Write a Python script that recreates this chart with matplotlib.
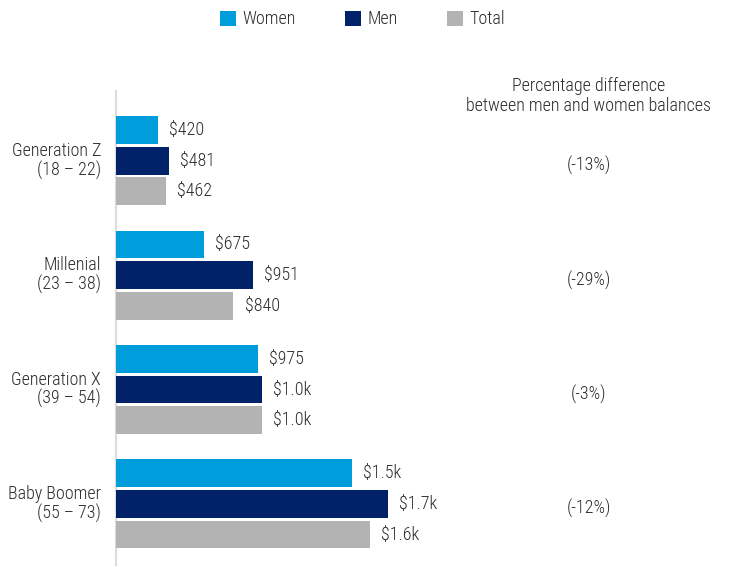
import matplotlib
matplotlib.use("Agg")
import matplotlib.pyplot as plt
import matplotlib.transforms as mtransforms
from matplotlib.patches import Patch

# ---- data ----
categories = ["Generation Z\n(18 – 22)", "Millenial\n(23 – 38)",
              "Generation X\n(39 – 54)", "Baby Boomer\n(55 – 73)"]
women = [420, 675, 975, 1500]
men = [481, 951, 1000, 1700]
total = [462, 840, 1000, 1600]
women_labels = ["$420", "$675", "$975", "$1.5k"]
men_labels = ["$481", "$951", "$1.0k", "$1.7k"]
total_labels = ["$462", "$840", "$1.0k", "$1.6k"]
pct_diff = ["(-13%)", "(-29%)", "(-3%)", "(-12%)"]
series_names = ["Women", "Men", "Total"]
header = "Percentage difference\nbetween men and women balances"

# ---- style ----
plt.rcParams['font.family'] = ['Roboto Condensed', 'DejaVu Sans']
plt.rcParams['font.stretch'] = 'condensed'
plt.rcParams['font.weight'] = 300
TXT = '#2b2b2b'
colors = ['#009ddc', '#012169', '#b3b3b3']
FS = 13

W, H = 730, 567
fig = plt.figure(figsize=(W / 100, H / 100), dpi=100)
ax_left, ax_right, ax_top, ax_bot = 116, 730, 90.7, 565
ax = fig.add_axes([ax_left / W, (H - ax_bot) / H, (ax_right - ax_left) / W, (ax_bot - ax_top) / H])

XMIN = 185
px_per_unit = 0.1793
ax.set_xlim(XMIN, XMIN + (ax_right - ax_left) / px_per_unit)
ax.set_ylim(3.534, -0.612)

offsets = [-0.2676, 0.0, 0.2676]
bar_h = 0.242
series = [women, men, total]
labels = [women_labels, men_labels, total_labels]
for s, (vals, labs, col, off) in enumerate(zip(series, labels, colors, offsets)):
    ys = [i + off for i in range(len(vals))]
    ax.barh(ys, [v - XMIN for v in vals], left=XMIN, height=bar_h, color=col, zorder=3)
    for v, y, lab in zip(vals, ys, labs):
        ax.annotate(lab, (v, y), xytext=(8, 0), textcoords='offset points',
                    va='center', ha='left', fontsize=FS, color=TXT)

for sp in ['top', 'right', 'bottom']:
    ax.spines[sp].set_visible(False)
ax.spines['left'].set_color('#dddddd')
ax.spines['left'].set_linewidth(1.6)
ax.set_xticks([])
ax.set_yticks([])

trans = mtransforms.blended_transform_factory(fig.transFigure, ax.transData)
for i, (cat, pct) in enumerate(zip(categories, pct_diff)):
    ax.text(101 / W, i, cat, transform=trans, ha='right', va='center',
            multialignment='right', fontsize=FS, color=TXT, linespacing=1.05)
    ax.annotate(pct, (589 / W, i), xycoords=trans, xytext=(0, -3.5),
                textcoords='offset points', ha='center', va='center',
                fontsize=FS, color=TXT)

fig.text(589 / W, 1 - 96 / H, header, ha='center', va='center',
         fontsize=FS, color=TXT, linespacing=1.15)

handles = [Patch(facecolor=c, label=n) for c, n in zip(colors, series_names)]
leg = fig.legend(handles=handles, loc='center', bbox_to_anchor=(362.5 / W, 1 - 19.5 / H),
                 ncol=3, frameon=False, handlelength=0.88, handleheight=0.88,
                 handletextpad=0.35, columnspacing=2.75, fontsize=FS)
for t in leg.get_texts():
    t.set_color(TXT)

fig.savefig('out.png', dpi=100)
